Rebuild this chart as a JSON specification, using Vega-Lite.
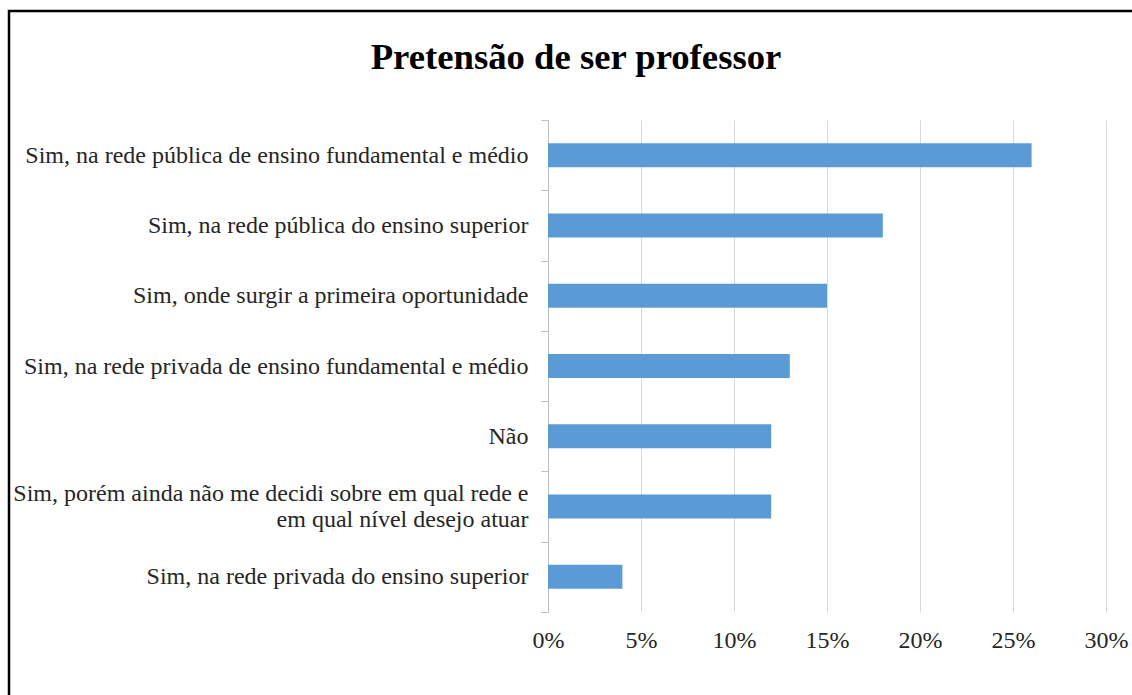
{
  "$schema": "https://vega.github.io/schema/vega-lite/v6.json",
  "width": 1134,
  "height": 710,
  "autosize": {"type": "none"},
  "padding": {"left": 9, "top": 11, "right": -11, "bottom": -26},
  "background": "white",
  "title": {
    "text": "Pretensão de ser professor",
    "anchor": "middle",
    "frame": "group",
    "font": "Liberation Serif",
    "fontSize": 36.7,
    "fontWeight": "bold",
    "color": "black",
    "baseline": "alphabetic",
    "offset": -107
  },
  "data": {
    "values": [
      {"resposta": "Sim, na rede pública de ensino fundamental e médio", "pct": 0.26},
      {"resposta": "Sim, na rede pública do ensino superior", "pct": 0.18},
      {"resposta": "Sim, onde surgir a primeira oportunidade", "pct": 0.15},
      {"resposta": "Sim, na rede privada de ensino fundamental e médio", "pct": 0.13},
      {"resposta": "Não", "pct": 0.12},
      {"resposta": "Sim, porém ainda não me decidi sobre em qual rede e|em qual nível desejo atuar", "pct": 0.12},
      {"resposta": "Sim, na rede privada do ensino superior", "pct": 0.04}
    ]
  },
  "mark": {"type": "bar", "color": "#5b9bd5", "height": {"band": 0.3414}},
  "encoding": {
    "y": {
      "field": "resposta",
      "type": "nominal",
      "sort": null,
      "scale": {"range": [109, 601], "paddingInner": 0, "paddingOuter": 0},
      "axis": {
        "title": null,
        "offset": -539,
        "domainColor": "#bfbfbf",
        "domainWidth": 1,
        "tickColor": "#bfbfbf",
        "tickSize": 7,
        "tickBand": "extent",
        "labelPadding": 13,
        "labelFont": "Liberation Serif",
        "labelFontSize": 24,
        "labelColor": "#262626",
        "labelLimit": 700,
        "labelExpr": "split(datum.label, '|')",
        "labelLineHeight": 26,
        "labelOffset": {"condition": {"test": "indexof(datum.label, '|') >= 0", "value": -13}, "value": 0},
        "grid": false
      }
    },
    "x": {
      "field": "pct",
      "type": "quantitative",
      "scale": {"domain": [0, 0.3], "range": [539, 1097], "nice": false, "zero": true},
      "axis": {
        "title": null,
        "offset": -109,
        "values": [0, 0.05, 0.1, 0.15, 0.2, 0.25, 0.3],
        "format": ".0%",
        "domain": false,
        "ticks": false,
        "tickSize": 0,
        "labelPadding": 16,
        "labelFlush": false,
        "grid": true,
        "gridColor": "#d9d9d9",
        "gridWidth": 1,
        "labelFont": "Liberation Serif",
        "labelFontSize": 24,
        "labelColor": "#262626"
      }
    }
  },
  "config": {"view": {"stroke": "black", "strokeWidth": 2.5}}
}
